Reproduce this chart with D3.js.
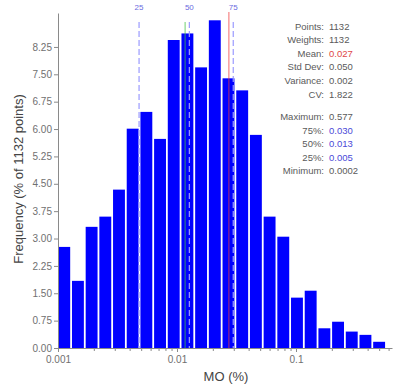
<!DOCTYPE html>
<html>
<head>
<meta charset="utf-8">
<script src="https://cdn.jsdelivr.net/npm/d3@7/dist/d3.min.js"></script>
<style>
  html, body { margin: 0; padding: 0; background: #fff; }
  svg { display: block; font-family: "Liberation Sans", Arial, sans-serif; }
</style>
</head>
<body>
<svg id="chart" width="393" height="387"></svg>
<script>
// Log-spaced bin edges of MO (%) — 24 bins from 0.001 to the maximum
const binEdges = [0.001, 0.0013032, 0.0016983, 0.0022132, 0.0028843, 0.0037588,
  0.0048984, 0.0063836, 0.008319, 0.010841, 0.014129, 0.018412, 0.024004,
  0.031294, 0.040787, 0.053159, 0.069291, 0.090317, 0.11772, 0.15346,
  0.19999, 0.26063, 0.33972, 0.44278, 0.57707];

// Frequency of each bin, % of 1132 points
const frequency = [2.77, 1.84, 3.32, 3.60, 4.34, 6.01, 6.47, 5.73, 8.44, 8.62,
  7.69, 8.98, 7.39, 7.06, 5.84, 3.60, 3.05, 1.38, 1.57, 0.54, 0.72, 0.45, 0.36, 0.17];

// Reference lines
const percentileNames = ["25", "50", "75"];
const percentileValues = [0.0048, 0.0127, 0.0297];
const meanValue = 0.0273;
const geoMeanValue = 0.0117;

// Axis ticks
const yTicks = [0, 0.75, 1.5, 2.25, 3, 3.75, 4.5, 5.25, 6, 6.75, 7.5, 8.25];
const xMajorTicks = [0.001, 0.01, 0.1];
const xMajorLabels = ["0.001", "0.01", "0.1"];
const xMinorTicks = [0.002, 0.003, 0.004, 0.005, 0.006, 0.007, 0.008, 0.009,
  0.02, 0.03, 0.04, 0.05, 0.06, 0.07, 0.08, 0.09,
  0.2, 0.3, 0.4, 0.5, 0.6];

// Summary statistics panel
const statLabels = ["Points:", "Weights:", "Mean:", "Std Dev:", "Variance:", "CV:"];
const statValues = ["1132", "1132", d3.format(".3f")(meanValue), "0.050", "0.002", "1.822"];
const rangeLabels = ["Maximum:", "75%:", "50%:", "25%:", "Minimum:"];
const rangeValues = ["0.577",
  d3.format(".3f")(percentileValues[2]),
  d3.format(".3f")(percentileValues[1]),
  d3.format(".3f")(percentileValues[0]),
  "0.0002"];

const svg = d3.select("#chart");

const x = d3.scaleLog().domain([0.001, 0.641]).range([58, 392]);
const y = d3.scaleLinear().domain([0, 9.18]).range([348, 13]);

const bins = frequency.map((v, i) => ({ x0: binEdges[i], x1: binEdges[i + 1], v }));

// Bars
svg.append("g")
  .selectAll("rect")
  .data(bins)
  .join("rect")
  .attr("x", d => x(d.x0) + 0.3)
  .attr("width", d => x(d.x1) - x(d.x0) - 1.8)
  .attr("y", d => y(d.v))
  .attr("height", d => y(0) - y(d.v))
  .attr("fill", "#0000ff");

// Reference lines over the bars
const lineTop = 22;
svg.append("line")
  .attr("x1", x(geoMeanValue)).attr("x2", x(geoMeanValue))
  .attr("y1", lineTop).attr("y2", y(0))
  .attr("stroke", "#40c040").attr("stroke-opacity", 0.75).attr("stroke-width", 1);

svg.append("g")
  .selectAll("line")
  .data(percentileValues)
  .join("line")
  .attr("x1", d => x(d)).attr("x2", d => x(d))
  .attr("y1", lineTop).attr("y2", y(0))
  .attr("stroke", "#9a9aff").attr("stroke-width", 1.2)
  .attr("stroke-dasharray", "6,3");

svg.append("line")
  .attr("x1", x(meanValue)).attr("x2", x(meanValue))
  .attr("y1", 12).attr("y2", y(0))
  .attr("stroke", "#f03a3a").attr("stroke-opacity", 0.75).attr("stroke-width", 1);

svg.append("g")
  .selectAll("text")
  .data(percentileValues)
  .join("text")
  .attr("x", d => x(d))
  .attr("y", 10)
  .attr("text-anchor", "middle")
  .attr("font-size", 8)
  .attr("fill", "#6a6ae0")
  .text((d, i) => percentileNames[i]);

// Axes
const axisColor = "#8a8a8a";
const labelColor = "#707070";

const yAxis = svg.append("g")
  .attr("transform", "translate(58,0)")
  .call(d3.axisLeft(y).tickValues(yTicks).tickSize(4).tickSizeOuter(0)
    .tickPadding(2).tickFormat(d3.format(".2f")));

const xAxis = svg.append("g")
  .attr("transform", `translate(0,${y(0)})`)
  .call(d3.axisBottom(x).tickValues(xMajorTicks).tickSize(4).tickSizeOuter(0)
    .tickPadding(4).tickFormat((d, i) => xMajorLabels[i]));

const xMinor = svg.append("g")
  .attr("transform", `translate(0,${y(0)})`)
  .call(d3.axisBottom(x).tickValues(xMinorTicks).tickSize(3).tickFormat(""));
xMinor.select(".domain").remove();

[yAxis, xAxis, xMinor].forEach(g => {
  g.select(".domain").attr("stroke", axisColor);
  g.selectAll(".tick line").attr("stroke", axisColor);
  g.selectAll(".tick text")
    .attr("fill", labelColor)
    .attr("font-size", 10)
    .attr("font-family", "Liberation Sans, Arial, sans-serif");
});

// Axis titles
svg.append("text")
  .attr("x", 226).attr("y", 381)
  .attr("text-anchor", "middle")
  .attr("font-size", 13)
  .attr("fill", "#444")
  .text("MO (%)");

svg.append("text")
  .attr("transform", "translate(23,179) rotate(-90)")
  .attr("text-anchor", "middle")
  .attr("font-size", 13)
  .attr("fill", "#444")
  .text("Frequency (% of 1132 points)");

// Statistics panel
const panel = svg.append("g").attr("font-size", 9.5);
const labelRight = 324, valueLeft = 329;

function drawRows(labels, values, startY, colorFor) {
  labels.forEach((lab, i) => {
    const yy = startY + i * 13.6;
    panel.append("text").attr("x", labelRight).attr("y", yy)
      .attr("text-anchor", "end").attr("fill", "#5a5a5a").text(lab);
    panel.append("text").attr("x", valueLeft).attr("y", yy)
      .attr("fill", colorFor(i)).text(values[i]);
  });
}

drawRows(statLabels, statValues, 29.5, i => i === 2 ? "#e04848" : "#5a5a5a");
drawRows(rangeLabels, rangeValues, 120, i => (i >= 1 && i <= 3) ? "#4a4ad8" : "#5a5a5a");
</script>
</body>
</html>
